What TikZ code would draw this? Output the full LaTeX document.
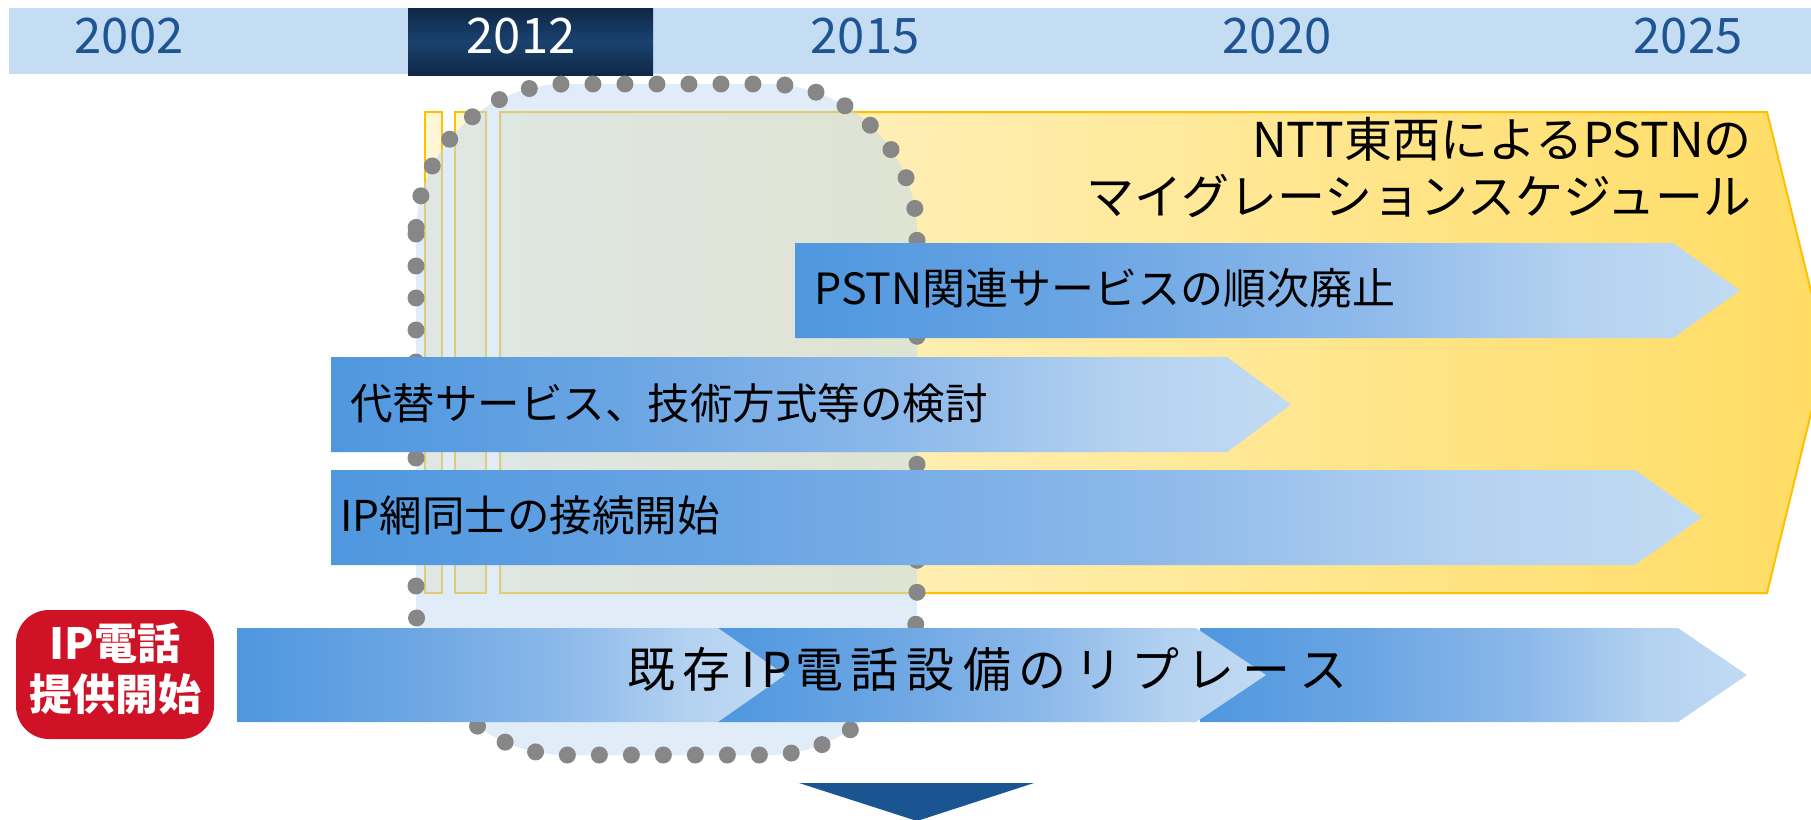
\documentclass[tikz,border=0pt]{standalone}
\usepackage{fontspec}
\setmainfont{Noto Sans CJK JP}
\definecolor{band}{HTML}{C5DDF3}
\definecolor{yeartxt}{HTML}{1F5494}
\definecolor{navyA}{HTML}{0E2745}
\definecolor{navyB}{HTML}{1A426F}
\definecolor{ylwL}{HTML}{FFF6D5}
\definecolor{ylwR}{HTML}{FFDC63}
\definecolor{gold}{HTML}{FFC000}
\definecolor{blobfill}{HTML}{C1D9F1}
\definecolor{dotgray}{HTML}{878787}
\definecolor{arrA}{HTML}{4F97DF}
\definecolor{arrM}{HTML}{6AA5E3}
\definecolor{arrB}{HTML}{8DB9EA}
\definecolor{arrD}{HTML}{B3D1F0}
\definecolor{arrC}{HTML}{C2DBF3}
\definecolor{redbox}{HTML}{D01227}
\definecolor{downarr}{HTML}{1B5591}
\pgfdeclarehorizontalshading{bluearr}{100bp}{color(0bp)=(arrA); color(25bp)=(arrA); color(40bp)=(arrM); color(55bp)=(arrB); color(66bp)=(arrD); color(75bp)=(arrC); color(100bp)=(arrC)}
\newcommand\cb[1]{\makebox[56pt]{#1}}
\newcommand\hb[1]{\makebox[28pt]{#1}}
\tikzset{
  yearlbl/.style={inner sep=0pt, font=\fontsize{49}{49}\selectfont, text=yeartxt},
  arrlbl/.style={inner sep=0pt, anchor=west, font=\fontsize{42.5}{50}\selectfont, text=black},
  bluearrow/.style={shading=bluearr},
  ystrip/.style={fill=ylwL, draw=gold, line width=2pt},
}
\begin{document}
\begin{tikzpicture}[x=1pt,y=-1pt]
\useasboundingbox (0,0) rectangle (1811,819);
\clip (0,0) rectangle (1811,819);
% year band
\fill[band] (9,8) rectangle (1811,74);
\shade[top color=navyA, bottom color=navyA, middle color=navyB] (408,8) rectangle (653,75);
\node[yearlbl] (y2002) at (129,36) {2002};
\node[yearlbl, text=white] (y2012) at (521,36) {2012};
\node[yearlbl] (y2015) at (865,36) {2015};
\node[yearlbl] (y2020) at (1277,36) {2020};
\node[yearlbl] (y2025) at (1688,36) {2025};
% yellow chevron
\filldraw[ystrip] (425,112) rectangle (442,593);
\filldraw[ystrip] (455,112) rectangle (486,593);
\shadedraw[left color=ylwL, right color=ylwR, draw=gold, line width=2pt]
  (500,112) -- (1767,112) -- (1826,352) -- (1767,593) -- (500,593) -- cycle;
\node[inner sep=0pt, anchor=east, align=right, font=\fontsize{48}{57}\selectfont] (title) at (1752,168)
  {NTT東西によるPSTNの\\マイグレーションスケジュール};
% dotted blob
\fill[blobfill, opacity=0.5, rounded corners=150pt] (416,84) rectangle (917,755);
\draw[dotgray, line width=17pt, dash pattern=on 0pt off 32pt, line cap=round, rounded corners=150pt] (416,84) rectangle (917,755);
% blue arrows
\shade[bluearrow] (795,243) -- (1673,243) -- (1740,290.5) -- (1673,338) -- (795,338) -- cycle;
\node[arrlbl, font=\fontsize{43}{50}\selectfont] (pstn) at (814,288) {PSTN関連サービスの順次廃止};
\shade[bluearrow] (331,357) -- (1227,357) -- (1291,404.5) -- (1227,452) -- (331,452) -- cycle;
\node[arrlbl] (daitai) at (350,403) {代替サービス、技術方式等の検討};
\shade[bluearrow] (331,470) -- (1635,470) -- (1702,517.5) -- (1635,565) -- (331,565) -- cycle;
\node[arrlbl] (ipmo) at (340,515) {IP網同士の接続開始};
% bottom arrows
\shade[bluearrow] (1200,628) -- (1678,628) -- (1747,675) -- (1678,722) -- (1200,722) -- cycle;
\shade[bluearrow] (718,628) -- (1196,628) -- (1266,675) -- (1196,722) -- (718,722) -- cycle;
\shade[bluearrow] (237,628) -- (718,628) -- (785,675) -- (718,722) -- (237,722) -- cycle;
\node[inner sep=0pt, font=\fontsize{48}{50}\selectfont] (replace) at (987,669)
  {\cb{既}\cb{存}\hb{I}\hb{P}\cb{電}\cb{話}\cb{設}\cb{備}\cb{の}\cb{リ}\cb{プ}\cb{レ}\cb{ー}\cb{ス}};
% red badge
\fill[redbox, rounded corners=33pt] (16,610) rectangle (214,739);
\node[inner sep=0pt, align=center, text=white, font=\fontsize{43}{51}\selectfont\bfseries] (badge) at (115,669)
  {IP電話\\提供開始};
% down arrow
\fill[downarr] (799,783) -- (1034,783) -- (917,821) -- cycle;
\end{tikzpicture}
\end{document}
